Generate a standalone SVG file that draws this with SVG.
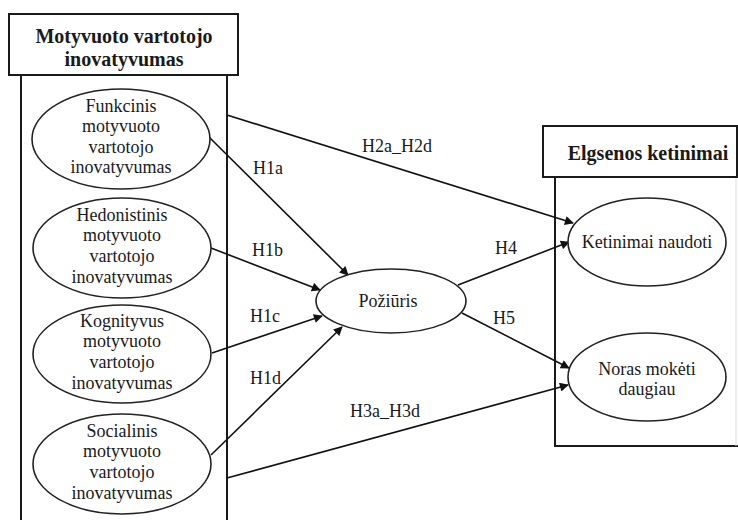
<svg xmlns="http://www.w3.org/2000/svg" width="738" height="520" viewBox="0 0 738 520">
  <style>
    .frame { fill: none; stroke: #1a1a1a; stroke-width: 2; }
    .hdr { fill: #fff; stroke: #1a1a1a; stroke-width: 2; }
    .node { fill: #fff; stroke: #222; stroke-width: 1.6; }
    .edge { fill: none; stroke: #111; stroke-width: 1.6; }
    .arrow { marker-end: url(#head); }
    text { font-family: 'Liberation Serif', 'DejaVu Serif', serif; fill: #1a1a1a; }
    .title { font-size: 20px; font-weight: bold; text-anchor: middle; }
    .lbl { font-size: 18px; text-anchor: middle; }
    .hyp { font-size: 18px; }
  </style>
  <defs>
    <marker id="head" viewBox="0 0 10 10" refX="9" refY="5" markerWidth="11" markerHeight="9" markerUnits="userSpaceOnUse" orient="auto">
      <path d="M0,0 L10,5 L0,10 z" fill="#111"/>
    </marker>
  </defs>

  <rect width="738" height="520" fill="#fff"/>

  <!-- left group: motivated consumer innovativeness -->
  <g id="group-left">
    <path class="frame" d="M21,75 V520 M227,75 V520"/>
    <rect class="hdr" x="9" y="14" width="229" height="61"/>
    <text class="title" x="124" y="43">Motyvuoto vartotojo</text>
    <text class="title" x="124" y="66">inovatyvumas</text>
  </g>

  <!-- right group: behavioural intentions -->
  <g id="group-right">
    <path class="frame" d="M555,177 V446 H738"/>
    <path d="M736,177 V446" fill="none" stroke="#ddd" stroke-width="1"/>
    <rect class="hdr" x="543" y="126" width="194" height="51"/>
    <text class="title" x="648" y="160">Elgsenos ketinimai</text>
  </g>

  <!-- connectors -->
  <g id="connectors">
    <line class="edge arrow" x1="227" y1="115" x2="573" y2="223"/>
    <line class="edge arrow" x1="209" y1="137" x2="348" y2="275"/>
    <line class="edge arrow" x1="211" y1="248" x2="320" y2="290"/>
    <line class="edge arrow" x1="212" y1="353" x2="322" y2="316"/>
    <line class="edge arrow" x1="211" y1="455" x2="342" y2="327"/>
    <line class="edge arrow" x1="227" y1="478" x2="568" y2="385"/>
    <line class="edge arrow" x1="458" y1="285" x2="569" y2="242"/>
    <line class="edge arrow" x1="462" y1="313" x2="569" y2="368"/>

    <text class="hyp" x="362" y="152">H2a_H2d</text>
    <text class="hyp" x="253" y="174">H1a</text>
    <text class="hyp" x="252" y="256">H1b</text>
    <text class="hyp" x="250" y="322">H1c</text>
    <text class="hyp" x="250" y="384">H1d</text>
    <text class="hyp" x="350" y="417">H3a_H3d</text>
    <text class="hyp" x="495" y="254">H4</text>
    <text class="hyp" x="493" y="324">H5</text>
  </g>

  <g id="funkcinis">
    <ellipse class="node" cx="121" cy="139" rx="89" ry="50"/>
    <text class="lbl" x="121" y="112">Funkcinis</text>
    <text class="lbl" x="121" y="132">motyvuoto</text>
    <text class="lbl" x="121" y="153">vartotojo</text>
    <text class="lbl" x="121" y="173">inovatyvumas</text>
  </g>

  <g id="hedonistinis">
    <ellipse class="node" cx="122" cy="248" rx="89" ry="50"/>
    <text class="lbl" x="122" y="221">Hedonistinis</text>
    <text class="lbl" x="122" y="241">motyvuoto</text>
    <text class="lbl" x="122" y="262">vartotojo</text>
    <text class="lbl" x="122" y="283">inovatyvumas</text>
  </g>

  <g id="kognityvus">
    <ellipse class="node" cx="122" cy="354" rx="89" ry="49"/>
    <text class="lbl" x="122" y="327">Kognityvus</text>
    <text class="lbl" x="122" y="347">motyvuoto</text>
    <text class="lbl" x="122" y="368">vartotojo</text>
    <text class="lbl" x="122" y="389">inovatyvumas</text>
  </g>

  <g id="socialinis">
    <ellipse class="node" cx="122" cy="464" rx="89" ry="50"/>
    <text class="lbl" x="122" y="437">Socialinis</text>
    <text class="lbl" x="122" y="457">motyvuoto</text>
    <text class="lbl" x="122" y="478">vartotojo</text>
    <text class="lbl" x="122" y="499">inovatyvumas</text>
  </g>

  <g id="poziuris">
    <ellipse class="node" cx="391" cy="301" rx="75" ry="32"/>
    <text class="lbl" x="388" y="307">Požiūris</text>
  </g>

  <g id="ketinimai-naudoti">
    <ellipse class="node" cx="647" cy="242" rx="79" ry="44"/>
    <text class="lbl" x="647" y="248">Ketinimai naudoti</text>
  </g>

  <g id="noras-moketi">
    <ellipse class="node" cx="647" cy="377" rx="79" ry="44"/>
    <text class="lbl" x="647" y="375">Noras mokėti</text>
    <text class="lbl" x="647" y="395">daugiau</text>
  </g>
</svg>
